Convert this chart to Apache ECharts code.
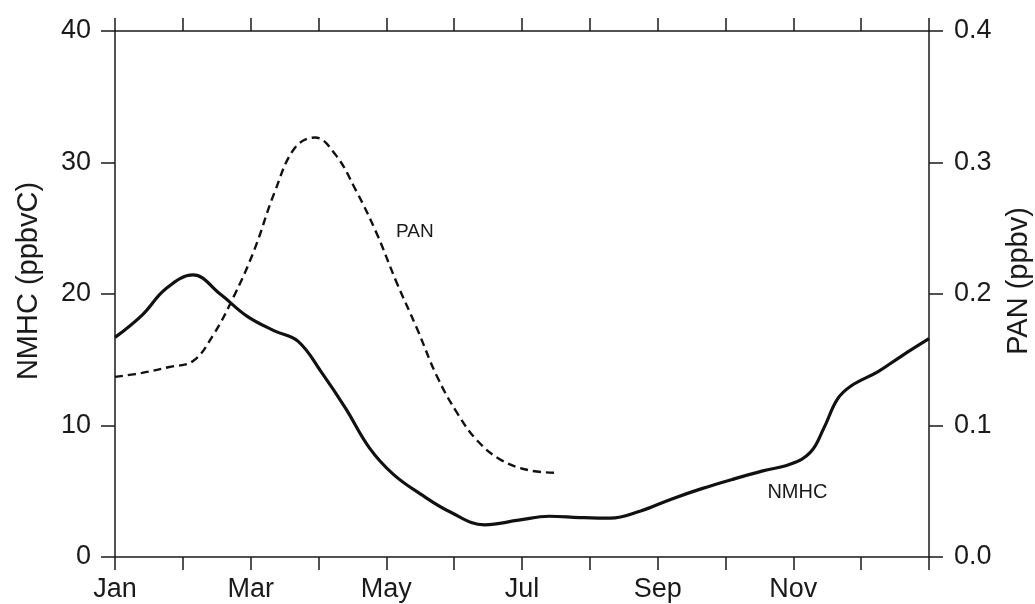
<!DOCTYPE html>
<html>
<head>
<meta charset="utf-8">
<script src="https://cdn.jsdelivr.net/npm/echarts@6/dist/echarts.min.js"></script>
<style>
html,body{margin:0;padding:0;background:#fff;}
#c{width:1035px;height:604px;}
</style>
</head>
<body>
<div id="c"></div>
<script>
// Month positions (0 = start of Jan, 12 = end of Dec)
const monthTickLabels = ['Jan','','Mar','','May','','Jul','','Sep','','Nov','',''];

const nmhcMonths = [0,0.4,0.75,1.15,1.55,1.95,2.35,2.7,3.05,3.4,3.75,4.1,4.5,4.95,5.45,5.95,6.4,6.85,7.3,7.75,8.2,8.65,9.1,9.55,9.95,10.25,10.45,10.65,10.85,11.25,11.6,12];
const nmhcValues = [16.7,18.4,20.4,21.45,20.0,18.3,17.2,16.4,14.0,11.3,8.3,6.3,4.8,3.4,2.45,2.8,3.1,3.0,2.95,3.5,4.4,5.2,5.9,6.55,7.05,7.95,9.8,12.0,13.0,14.1,15.3,16.6];

const panMonths = [0,0.4,0.8,1.15,1.45,1.75,2.05,2.35,2.65,2.95,3.25,3.55,3.85,4.15,4.45,4.75,5.05,5.35,5.7,6.1,6.5];
const panValues = [0.137,0.140,0.1445,0.149,0.169,0.198,0.233,0.277,0.311,0.319,0.306,0.279,0.247,0.209,0.174,0.137,0.109,0.088,0.0735,0.066,0.064];

const nmhcLabel = {name:'NMHC', month:10.06, value:4.94};
const panLabel = {name:'PAN', month:4.42, value:0.247};

const FONT = '"Liberation Sans", Arial, Helvetica, sans-serif';
const INK = '#1a1a1a';

const chart = echarts.init(document.getElementById('c'), null, {renderer:'canvas'});

const xCommon = {
  type:'value', min:0, max:12, interval:1,
  axisLine:{show:true, onZero:false, lineStyle:{color:INK, width:1.5}},
  axisTick:{show:true, length:13, lineStyle:{color:INK, width:1.5}},
  splitLine:{show:false}
};
const yCommon = {
  type:'value',
  axisLine:{show:true, onZero:false, lineStyle:{color:INK, width:1.5}},
  axisTick:{show:true, length:14, lineStyle:{color:INK, width:1.5}},
  splitLine:{show:false},
  nameLocation:'middle', nameRotate:90,
  nameTextStyle:{fontFamily:FONT, fontSize:29, color:INK, padding:[0,0,0,26]}
};

chart.setOption({
  animation:false,
  backgroundColor:'#fff',
  grid:{left:115, right:106, top:31, bottom:47, containLabel:false, outerBoundsMode:'none'},
  xAxis:[
    Object.assign({}, xCommon, {
      position:'bottom',
      axisLabel:{show:true, margin:19, fontFamily:FONT, fontSize:27, color:INK,
        formatter:(v)=>monthTickLabels[Math.round(v)] || ''}
    }),
    Object.assign({}, xCommon, {position:'top', axisLabel:{show:false}})
  ],
  yAxis:[
    Object.assign({}, yCommon, {
      position:'left', min:0, max:40, interval:10,
      name:'NMHC (ppbvC)', nameGap:72,
      axisLabel:{margin:24, fontFamily:FONT, fontSize:27, color:INK,
        formatter:(v)=>String(v)}
    }),
    Object.assign({}, yCommon, {
      position:'right', min:0, max:0.4, interval:0.1,
      name:'PAN (ppbv)', nameGap:75,
      axisLabel:{margin:25, fontFamily:FONT, fontSize:27, color:INK,
        formatter:(v)=>v.toFixed(1)}
    })
  ],
  series:[
    {
      name:'NMHC', type:'line', xAxisIndex:0, yAxisIndex:0,
      data:nmhcMonths.map((m,i)=>[m, nmhcValues[i]]),
      smooth:0.4, showSymbol:false, symbol:'none',
      lineStyle:{color:'#111', width:3.2},
      markPoint:{
        symbol:'circle', symbolSize:0,
        label:{show:true, formatter:nmhcLabel.name, fontFamily:FONT, fontSize:20, color:INK},
        data:[{coord:[nmhcLabel.month, nmhcLabel.value]}]
      }
    },
    {
      name:'PAN', type:'line', xAxisIndex:0, yAxisIndex:1,
      data:panMonths.map((m,i)=>[m, panValues[i]]),
      smooth:0.4, showSymbol:false, symbol:'none',
      lineStyle:{color:'#111', width:2.4, type:[8,5]},
      markPoint:{
        symbol:'circle', symbolSize:0,
        label:{show:true, formatter:panLabel.name, fontFamily:FONT, fontSize:19, color:INK},
        data:[{coord:[panLabel.month, panLabel.value]}]
      }
    }
  ]
});
</script>
</body>
</html>
